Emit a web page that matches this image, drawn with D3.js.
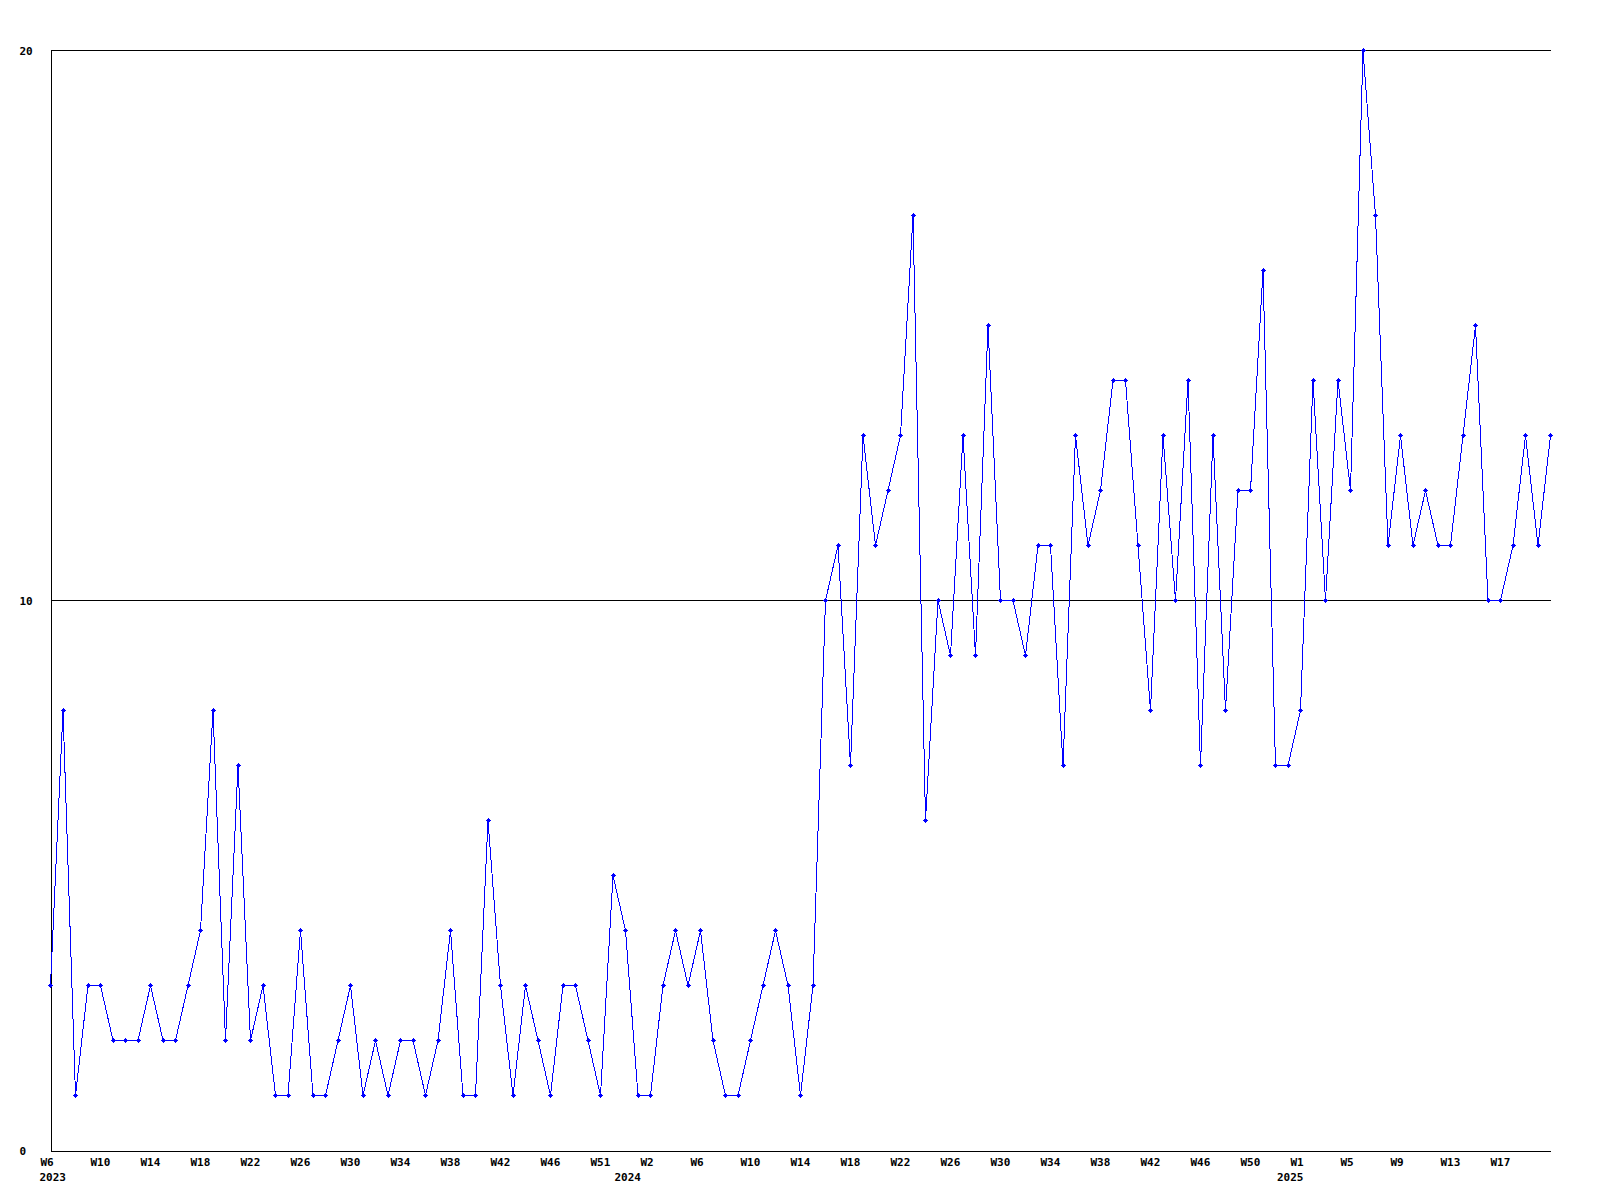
<!DOCTYPE html>
<html>
<head>
<meta charset="utf-8">
<script src="https://cdn.jsdelivr.net/npm/d3@7"></script>
<style>
  html, body { margin: 0; padding: 0; background: #ffffff; }
  svg { display: block; }
  text { font-family: "DejaVu Sans Mono", "Liberation Mono", monospace; font-weight: bold; font-size: 11px; fill: #000; }
</style>
</head>
<body>
<svg id="chart" width="1600" height="1200"></svg>
<script>
// ---- data ----
const weeks2023 = [6,7,8,9,10,11,12,13,14,15,16,17,18,19,20,21,22,23,24,25,26,27,28,29,30,31,32,33,34,35,36,37,38,39,40,41,42,43,44,45,46,47,48,49,51,52];
const weeks2024 = [0,1,2,3,4,5,6,7,8,9,10,11,12,13,14,15,16,17,18,19,20,21,22,23,24,25,26,27,28,29,30,31,32,33,34,35,36,37,38,39,40,41,42,43,44,45,46,47,48,49,50,51,52];
const weeks2025 = [0,1,2,3,4,5,6,7,8,9,10,11,12,13,14,15,16,17,18,19,20,21];

const values = [
  3,8,1,3,3,2,2,2,3,2,2,3,4,8,2,7,2,3,1,1,4,1,1,
  2,3,1,2,1,2,2,1,2,4,1,1,6,3,1,3,2,1,3,3,2,
  1,5,4,1,1,3,4,3,4,2,1,1,2,3,4,3,1,3,10,11,7,
  13,11,12,13,17,6,10,9,13,9,15,10,10,9,11,11,7,13,11,12,14,14,11,8,
  13,10,14,7,13,8,12,12,16,7,7,8,14,10,14,12,20,17,11,13,11,12,11,11,13,15,10,10,11,13,11,13
];

const yTicks = [0, 10, 20];
const xTickLabels = ["W6","W10","W14","W18","W22","W26","W30","W34","W38","W42","W46","W51",
  "W2","W6","W10","W14","W18","W22","W26","W30","W34","W38","W42","W46","W50",
  "W1","W5","W9","W13","W17"];
const yearLabels = ["2023","2024","2025"];

// ---- categories ----
const categories = [];
[[2023, weeks2023], [2024, weeks2024], [2025, weeks2025]].forEach(([yr, wks]) => {
  wks.forEach(w => categories.push(yr + "-W" + w));
});
const data = categories.map((c, i) => ({ cat: c, value: values[i] }));

// ---- scales ----
const svg = d3.select("#chart");
const x = d3.scalePoint().domain(categories).range([50.5, 1550.5]).padding(0);
const y = d3.scaleLinear().domain([0, 20]).range([1150.5, 50.5]);

// gridlines (10 and 20)
svg.append("g")
  .selectAll("line")
  .data(yTicks.filter(t => t > 0))
  .join("line")
  .attr("x1", x.range()[0]).attr("x2", x.range()[1] + 0.5)
  .attr("y1", d => y(d)).attr("y2", d => y(d))
  .attr("stroke", "#000").attr("stroke-width", 1)
  .attr("shape-rendering", "crispEdges");

// y axis
const yAxis = d3.axisLeft(y).tickValues(yTicks).tickSize(0).tickFormat(d3.format("d"));
const gy = svg.append("g").attr("transform", "translate(50.5,0)").call(yAxis);
gy.select(".domain").attr("stroke", "#000").attr("shape-rendering", "crispEdges");
gy.selectAll("text")
  .attr("x", 19.5 - 50.5)
  .attr("text-anchor", "start")
  .attr("dy", "0.35em")
  .style("font-family", "'DejaVu Sans Mono', monospace")
  .style("font-weight", "bold")
  .style("font-size", "11px");

// x axis (week labels every 4th category)
const tickCats = categories.filter((c, i) => i % 4 === 0);
const labelOf = new Map(tickCats.map((c, i) => [c, xTickLabels[i]]));
const xAxis = d3.axisBottom(x).tickValues(tickCats).tickSize(0).tickFormat(c => labelOf.get(c));
const gx = svg.append("g").attr("transform", "translate(0,1150.5)").call(xAxis);
gx.select(".domain").attr("stroke", "#000").attr("shape-rendering", "crispEdges");
gx.selectAll("text")
  .attr("text-anchor", "start")
  .attr("dx", -10.5)
  .attr("y", 12)
  .attr("dy", "0.35em")
  .style("font-family", "'DejaVu Sans Mono', monospace")
  .style("font-weight", "bold")
  .style("font-size", "11px");

// year labels at the first category of each year
const yearStarts = yearLabels.map(yl => categories.find(c => c.startsWith(yl + "-")));
svg.append("g")
  .selectAll("text")
  .data(yearStarts)
  .join("text")
  .attr("x", d => x(d) - 11)
  .attr("y", 1177)
  .attr("dy", "0.35em")
  .attr("text-anchor", "start")
  .text((d, i) => yearLabels[i]);

// line
const line = d3.line().x(d => x(d.cat)).y(d => y(d.value));
svg.append("path")
  .datum(data)
  .attr("d", line)
  .attr("fill", "none")
  .attr("stroke", "#0000ff")
  .attr("stroke-width", 1)
  .attr("shape-rendering", "crispEdges");

// markers (small plus shapes)
const mk = svg.append("g").attr("fill", "#0000ff").attr("shape-rendering", "crispEdges");
const pts = mk.selectAll("g").data(data).join("g")
  .attr("transform", d => `translate(${x(d.cat) - 0.5},${y(d.value) - 0.5})`);
pts.append("rect").attr("x", -2).attr("y", 0).attr("width", 5).attr("height", 1);
pts.append("rect").attr("x", 0).attr("y", -2).attr("width", 1).attr("height", 5);
pts.append("rect").attr("x", -1).attr("y", -1).attr("width", 3).attr("height", 3);
</script>
</body>
</html>
